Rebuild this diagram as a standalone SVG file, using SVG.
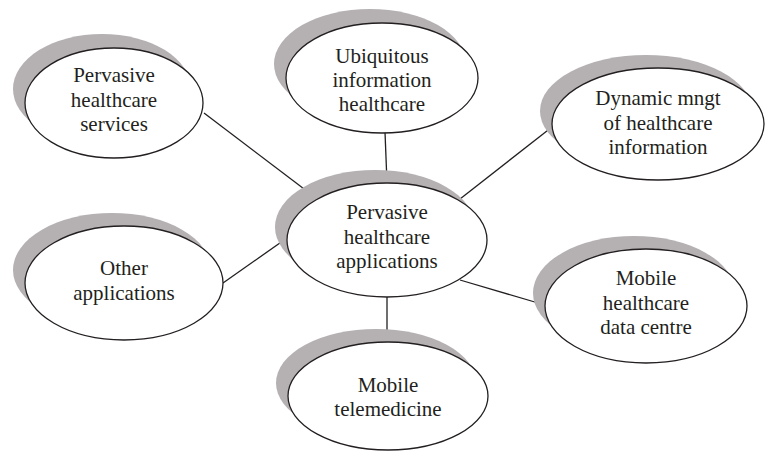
<svg xmlns="http://www.w3.org/2000/svg" width="767" height="455" viewBox="0 0 767 455">
<style>
.sh{fill:#b5b1b2;stroke:none}
.el{fill:#ffffff;stroke:#231f20;stroke-width:1.3}
.tx{font-family:"Liberation Serif","Times New Roman",serif;font-size:21px;fill:#231f20;text-anchor:middle}
.ln{stroke:#231f20;stroke-width:1.3;fill:none}
</style>
<rect width="767" height="455" fill="#ffffff"/>
<g id="connectors">
<line class="ln" x1="204" y1="113" x2="316" y2="198"/>
<line class="ln" x1="385" y1="132" x2="387" y2="183"/>
<line class="ln" x1="460" y1="199" x2="552" y2="127"/>
<line class="ln" x1="223" y1="283" x2="287" y2="238"/>
<line class="ln" x1="460" y1="280" x2="545" y2="305"/>
<line class="ln" x1="387" y1="297" x2="387" y2="342"/>
</g>
<g id="node-services">
<ellipse class="sh" cx="102" cy="89" rx="89" ry="55"/>
<ellipse class="el" cx="114" cy="103" rx="89" ry="55"/>
<text class="tx" x="114" y="82">Pervasive</text>
<text class="tx" x="114" y="107">healthcare</text>
<text class="tx" x="114" y="131">services</text>
</g>
<g id="node-ubiquitous">
<ellipse class="sh" cx="370" cy="64" rx="96" ry="55"/>
<ellipse class="el" cx="382" cy="78" rx="96" ry="55"/>
<text class="tx" x="382" y="63">Ubiquitous</text>
<text class="tx" x="382" y="87">information</text>
<text class="tx" x="382" y="111">healthcare</text>
</g>
<g id="node-dynamic">
<ellipse class="sh" cx="646" cy="111" rx="106" ry="56"/>
<ellipse class="el" cx="658" cy="124" rx="106" ry="56"/>
<text class="tx" x="658" y="105">Dynamic mngt</text>
<text class="tx" x="658" y="130">of healthcare</text>
<text class="tx" x="658" y="154">information</text>
</g>
<g id="node-center">
<ellipse class="sh" cx="375" cy="227" rx="100" ry="57"/>
<ellipse class="el" cx="387" cy="240" rx="100" ry="57"/>
<text class="tx" x="387" y="219">Pervasive</text>
<text class="tx" x="387" y="244">healthcare</text>
<text class="tx" x="387" y="268">applications</text>
</g>
<g id="node-other">
<ellipse class="sh" cx="112" cy="270" rx="99" ry="57"/>
<ellipse class="el" cx="124" cy="283" rx="99" ry="57"/>
<text class="tx" x="124" y="275">Other</text>
<text class="tx" x="124" y="300">applications</text>
</g>
<g id="node-datacentre">
<ellipse class="sh" cx="634" cy="293" rx="101" ry="57"/>
<ellipse class="el" cx="646" cy="306" rx="101" ry="57"/>
<text class="tx" x="646" y="285">Mobile</text>
<text class="tx" x="646" y="310">healthcare</text>
<text class="tx" x="646" y="334">data centre</text>
</g>
<g id="node-telemedicine">
<ellipse class="sh" cx="376" cy="383" rx="100" ry="54"/>
<ellipse class="el" cx="388" cy="396" rx="100" ry="54"/>
<text class="tx" x="388" y="392">Mobile</text>
<text class="tx" x="388" y="416">telemedicine</text>
</g>
</svg>
